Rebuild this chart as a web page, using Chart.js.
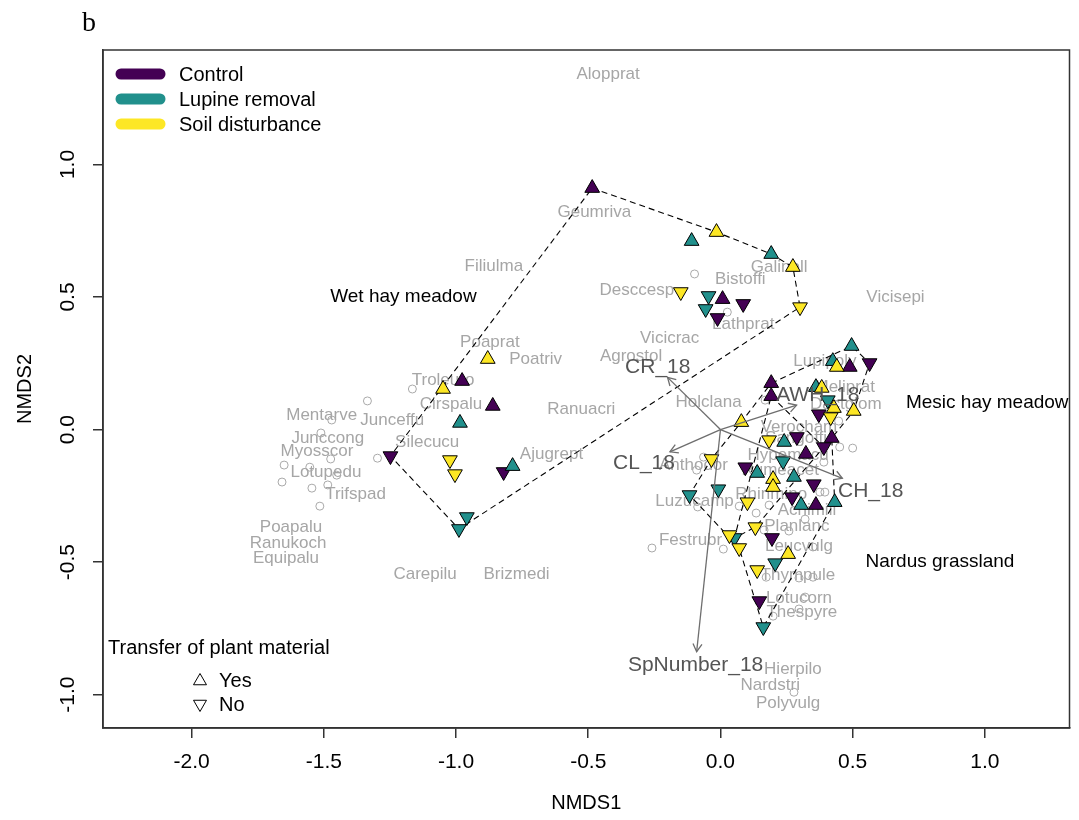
<!DOCTYPE html>
<html>
<head>
<meta charset="utf-8">
<script src="https://cdn.jsdelivr.net/npm/chart.js@4.4.0/dist/chart.umd.min.js"></script>
<style>
  html, body { margin: 0; padding: 0; background: #ffffff; }
  #wrap { width: 1079px; height: 820px; }
</style>
</head>
<body>
<div id="wrap"><canvas id="nmds" width="1079" height="820"></canvas></div>
<script>
// ---- axes ----
const xTicks = [-2.0, -1.5, -1.0, -0.5, 0.0, 0.5, 1.0];
const yTicks = [-1.0, -0.5, 0.0, 0.5, 1.0];

// ---- treatments ----
const treatments = ['Control', 'Lupine removal', 'Soil disturbance'];
const treatmentColours = ['#440154', '#21908C', '#FDE725'];

// ---- site scores (NMDS1 / NMDS2), by treatment and transfer of plant material ----
const controlYesX = [-0.485, 0.008, -0.977, -0.861, 0.489, 0.192, 0.192, 0.421, 0.323, 0.361];
const controlYesY = [0.911, 0.492, 0.183, 0.089, 0.236, 0.175, 0.126, -0.032, -0.092, -0.285];
const controlNoX = [0.086, -0.011, -1.248, -0.820, 0.564, 0.372, 0.289, 0.391, 0.094, 0.353, 0.271, 0.195, 0.147];
const controlNoY = [0.474, 0.421, -0.100, -0.160, 0.251, 0.058, -0.028, -0.066, -0.142, -0.206, -0.255, -0.409, -0.647];
const lupineYesX = [-0.109, 0.192, -0.985, -0.786, 0.496, 0.425, 0.361, 0.241, 0.139, 0.278, 0.305, 0.432];
const lupineYesY = [0.711, 0.662, 0.025, -0.138, 0.315, 0.258, 0.160, -0.047, -0.164, -0.179, -0.285, -0.274];
const lupineNoX = [-0.045, -0.056, -0.959, -0.989, 0.406, 0.237, -0.117, -0.008, 0.053, 0.207, 0.162];
const lupineNoY = [0.504, 0.455, -0.330, -0.375, 0.111, -0.119, -0.247, -0.225, -0.409, -0.504, -0.745];
const soilYesX = [-0.015, 0.274, -0.880, -1.049, 0.440, 0.383, 0.429, 0.504, 0.079, 0.199, 0.199, 0.256];
const soilYesY = [0.745, 0.613, 0.266, 0.153, 0.236, 0.157, 0.081, 0.070, 0.028, -0.187, -0.217, -0.470];
const soilNoX = [0.301, -0.150, -1.023, -1.004, 0.417, 0.184, 0.102, 0.132, -0.034, 0.034, 0.071, 0.139];
const soilNoY = [0.462, 0.519, -0.115, -0.168, 0.047, -0.040, -0.274, -0.368, -0.111, -0.398, -0.447, -0.530];

// ---- species scores ----
const speciesPtX = [-0.098, 0.026, -1.165, -1.335, -1.470, -1.511, -1.474, -1.650, -1.553, -1.451,
  -1.658, -1.545, -1.485, -1.515, -1.297, -0.259, 0.011, -0.064, -0.090, -0.086,
  0.071, 0.135, 0.184, 0.165, 0.259, 0.320, 0.376, 0.395, 0.451, 0.500,
  0.391, 0.173, 0.297, 0.350, 0.199, 0.297, 0.320, 0.278, 0.169, 0.447, 0.350];
const speciesPtY = [0.587, 0.443, 0.153, 0.108, 0.036, -0.013, -0.111, -0.134, -0.142, -0.172,
  -0.198, -0.221, -0.209, -0.289, -0.108, -0.447, -0.451, -0.104, -0.153, -0.292,
  -0.289, -0.315, -0.285, -0.379, -0.383, -0.338, -0.236, -0.236, -0.066, -0.070,
  -0.123, -0.557, -0.560, -0.557, -0.704, -0.677, -0.632, -0.991, 0.111, 0.032, -0.443];

const speciesNames = ['Alopprat', 'Geumriva', 'Filiulma', 'Bistoffi', 'Galinoll', 'Desccesp', 'Lathprat',
  'Vicicrac', 'Vicisepi', 'Agrostol', 'Poaprat', 'Poatriv', 'Troleuro', 'Cirspalu', 'Ranuacri',
  'Mentarve', 'Junceffu', 'Junccong', 'Silecucu', 'Myosscor', 'Lotupedu', 'Trifspad', 'Ajugrept',
  'Holclana', 'Anthodor', 'Luzucamp', 'Festrubr', 'Poapalu', 'Ranukoch', 'Equipalu', 'Carepilu',
  'Brizmedi', 'Lupipoly', 'Meliprat', 'Dactglom', 'Verocham', 'Sangoffi', 'Hypemacu', 'Rumeacet',
  'Rhinmino', 'Achimill', 'Planlanc', 'Leucvulg', 'Thympule', 'Lotucorn', 'Thespyre', 'Hierpilo',
  'Nardstri', 'Polyvulg'];
const speciesLabelX = [-0.425, -0.477, -0.857, 0.075, 0.222, -0.316, 0.086,
  -0.192, 0.662, -0.338, -0.872, -0.699, -1.049, -1.019, -0.526,
  -1.508, -1.241, -1.485, -1.109, -1.526, -1.492, -1.380, -0.639,
  -0.045, -0.102, -0.098, -0.113, -1.624, -1.635, -1.643, -1.117,
  -0.771, 0.395, 0.470, 0.474, 0.297, 0.286, 0.256, 0.226,
  0.192, 0.327, 0.289, 0.297, 0.293, 0.297, 0.308, 0.274,
  0.188, 0.256];
const speciesLabelY = [1.342, 0.821, 0.617, 0.568, 0.613, 0.526, 0.398,
  0.345, 0.500, 0.277, 0.330, 0.266, 0.187, 0.096, 0.077,
  0.055, 0.036, -0.032, -0.047, -0.081, -0.160, -0.243, -0.092,
  0.104, -0.134, -0.270, -0.417, -0.368, -0.428, -0.485, -0.545,
  -0.545, 0.258, 0.160, 0.096, 0.009, -0.032, -0.096, -0.153,
  -0.243, -0.304, -0.364, -0.440, -0.549, -0.636, -0.689, -0.904,
  -0.964, -1.032];

// ---- convex hulls of the three habitats ----
const wetHullX = [-0.485, -0.015, 0.192, 0.274, 0.301, -0.989, -1.248, -0.485];
const wetHullY = [0.911, 0.745, 0.662, 0.613, 0.462, -0.375, -0.100, 0.911];
const mesicHullX = [0.192, 0.496, 0.564, 0.504, 0.421, 0.432, 0.162, 0.071, -0.117, -0.034, 0.079, 0.192];
const mesicHullY = [0.175, 0.315, 0.251, 0.070, -0.032, -0.274, -0.745, -0.447, -0.247, -0.111, 0.028, 0.175];
const nardusHullX = [0.192, 0.391, 0.132, 0.053, 0.192];
const nardusHullY = [0.126, -0.066, -0.368, -0.409, 0.126];

const habitatNames = ['Wet hay meadow', 'Mesic hay meadow', 'Nardus grassland'];
const habitatLabelX = [-1.199, 1.009, 0.830];
const habitatLabelY = [0.500, 0.100, -0.500];

// ---- fitted environmental vectors ----
const envNames = ['CR_18', 'CL_18', 'AWH_18', 'CH_18', 'SpNumber_18'];
const envX = [-0.200, -0.191, 0.288, 0.461, -0.090];
const envY = [0.197, -0.084, 0.092, -0.184, -0.838];
const envLabelX = [-0.237, -0.289, 0.368, 0.568, -0.094];
const envLabelY = [0.236, -0.126, 0.130, -0.232, -0.889];

const FONT = "'Liberation Sans', Arial, Helvetica, sans-serif";
const zip = (xs, ys) => xs.map((x, i) => ({ x: x, y: ys[i] }));

function siteSet(label, xs, ys, colour, up) {
  return {
    label: label, data: zip(xs, ys), showLine: false,
    pointStyle: 'triangle', pointRadius: 8.5, pointHoverRadius: 8.5,
    pointRotation: up ? 0 : 180,
    backgroundColor: colour, borderColor: '#000000', borderWidth: 1, order: 20
  };
}
function hullSet(xs, ys) {
  return {
    label: 'hull', data: zip(xs, ys), showLine: true, fill: false, tension: 0,
    borderColor: '#000000', borderWidth: 1.1, borderDash: [6, 4],
    pointRadius: 0, pointHoverRadius: 0, order: 40
  };
}
function envSet(i) {
  return {
    label: envNames[i], data: [{ x: 0, y: 0 }, { x: envX[i], y: envY[i] }],
    showLine: true, fill: false, borderColor: '#6e6e6e', borderWidth: 1.3,
    pointRadius: 0, pointHoverRadius: 0, order: 10
  };
}

const datasets = [
  {
    label: 'species', data: zip(speciesPtX, speciesPtY), showLine: false,
    pointStyle: 'circle', pointRadius: 4, backgroundColor: 'rgba(0,0,0,0)',
    borderColor: '#a9a9a9', borderWidth: 1, order: 50
  },
  hullSet(wetHullX, wetHullY),
  hullSet(mesicHullX, mesicHullY),
  hullSet(nardusHullX, nardusHullY),
  siteSet('Soil disturbance / No', soilNoX, soilNoY, treatmentColours[2], false),
  siteSet('Soil disturbance / Yes', soilYesX, soilYesY, treatmentColours[2], true),
  siteSet('Lupine removal / No', lupineNoX, lupineNoY, treatmentColours[1], false),
  siteSet('Lupine removal / Yes', lupineYesX, lupineYesY, treatmentColours[1], true),
  siteSet('Control / No', controlNoX, controlNoY, treatmentColours[0], false),
  siteSet('Control / Yes', controlYesX, controlYesY, treatmentColours[0], true)
];
envNames.forEach((n, i) => datasets.push(envSet(i)));

// Species names sit underneath the site symbols
const speciesText = {
  id: 'speciesText',
  beforeDatasetsDraw(chart) {
    const { ctx, scales: { x, y } } = chart;
    ctx.save();
    ctx.font = '17px ' + FONT;
    ctx.fillStyle = '#a6a6a6';
    ctx.textAlign = 'center';
    ctx.textBaseline = 'middle';
    speciesNames.forEach((n, i) => {
      ctx.fillText(n, x.getPixelForValue(speciesLabelX[i]), y.getPixelForValue(speciesLabelY[i]));
    });
    ctx.restore();
  }
};

// Arrow heads, vector names, habitat names, legends, box and axis text
const annotations = {
  id: 'annotations',
  afterDatasetsDraw(chart) {
    const { ctx, chartArea: a, scales: { x, y } } = chart;
    ctx.save();
    // arrow heads
    ctx.strokeStyle = '#6e6e6e';
    ctx.lineWidth = 1.3;
    envNames.forEach((n, i) => {
      const x0 = x.getPixelForValue(0), y0 = y.getPixelForValue(0);
      const x1 = x.getPixelForValue(envX[i]), y1 = y.getPixelForValue(envY[i]);
      const ang = Math.atan2(y1 - y0, x1 - x0);
      const len = 9, spread = Math.PI / 6;
      ctx.beginPath();
      ctx.moveTo(x1 - len * Math.cos(ang - spread), y1 - len * Math.sin(ang - spread));
      ctx.lineTo(x1, y1);
      ctx.lineTo(x1 - len * Math.cos(ang + spread), y1 - len * Math.sin(ang + spread));
      ctx.stroke();
    });
    // vector names
    ctx.font = '21px ' + FONT;
    ctx.fillStyle = '#555555';
    ctx.textAlign = 'center';
    ctx.textBaseline = 'middle';
    envNames.forEach((n, i) => {
      ctx.fillText(n, x.getPixelForValue(envLabelX[i]), y.getPixelForValue(envLabelY[i]));
    });
    // habitat names
    ctx.font = '19px ' + FONT;
    ctx.fillStyle = '#000000';
    habitatNames.forEach((n, i) => {
      ctx.fillText(n, x.getPixelForValue(habitatLabelX[i]), y.getPixelForValue(habitatLabelY[i]));
    });
    // treatment legend
    ctx.lineCap = 'round';
    ctx.lineWidth = 11;
    ctx.textAlign = 'left';
    ctx.font = '20px ' + FONT;
    treatments.forEach((t, i) => {
      const ly = a.top + 24 + i * 25;
      ctx.strokeStyle = treatmentColours[i];
      ctx.beginPath();
      ctx.moveTo(a.left + 18, ly);
      ctx.lineTo(a.left + 57, ly);
      ctx.stroke();
      ctx.fillStyle = '#000000';
      ctx.fillText(t, a.left + 76, ly + 1);
    });
    // transfer legend
    ctx.lineCap = 'butt';
    ctx.fillText('Transfer of plant material', a.left + 5, 648);
    ctx.lineWidth = 1;
    ctx.strokeStyle = '#000000';
    const tri = (cx, cy, up) => {
      const r = 7.5, s = up ? 1 : -1;
      ctx.beginPath();
      ctx.moveTo(cx, cy - s * r);
      ctx.lineTo(cx + r * 0.866, cy + s * r * 0.5);
      ctx.lineTo(cx - r * 0.866, cy + s * r * 0.5);
      ctx.closePath();
      ctx.stroke();
    };
    tri(200, 681, true);
    tri(200, 704, false);
    ctx.fillText('Yes', 219, 681);
    ctx.fillText('No', 219, 705);
    ctx.restore();
  },
  afterDraw(chart) {
    const { ctx, chartArea: a, scales: { y } } = chart;
    ctx.save();
    // plot frame
    ctx.strokeStyle = '#333333';
    ctx.lineWidth = 1.5;
    ctx.strokeRect(a.left, a.top, a.right - a.left, a.bottom - a.top);
    // rotated y tick labels
    ctx.fillStyle = '#000000';
    ctx.font = '21px ' + FONT;
    ctx.textAlign = 'center';
    ctx.textBaseline = 'middle';
    y.ticks.forEach(t => {
      ctx.save();
      ctx.translate(68, y.getPixelForValue(t.value));
      ctx.rotate(-Math.PI / 2);
      ctx.fillText(t.value.toFixed(1), 0, 0);
      ctx.restore();
    });
    // axis titles
    ctx.font = '20px ' + FONT;
    ctx.fillText('NMDS1', (a.left + a.right) / 2, 803);
    ctx.save();
    ctx.translate(25, (a.top + a.bottom) / 2);
    ctx.rotate(-Math.PI / 2);
    ctx.fillText('NMDS2', 0, 0);
    ctx.restore();
    // panel letter
    ctx.font = '28px "Liberation Serif", "Times New Roman", serif';
    ctx.textAlign = 'left';
    ctx.textBaseline = 'alphabetic';
    ctx.fillText('b', 82, 31);
    ctx.restore();
  }
};

new Chart(document.getElementById('nmds'), {
  type: 'scatter',
  data: { datasets: datasets },
  plugins: [speciesText, annotations],
  options: {
    responsive: false,
    animation: false,
    devicePixelRatio: 1,
    layout: { padding: { top: 50, right: 4, left: 0, bottom: 0 } },
    plugins: { legend: { display: false }, tooltip: { enabled: false } },
    scales: {
      x: {
        type: 'linear', min: -2.335, max: 1.320,
        afterBuildTicks: s => { s.ticks = xTicks.map(v => ({ value: v })); },
        afterFit: s => { s.height = 92; },
        grid: { drawOnChartArea: false, drawTicks: true, tickLength: 10, color: '#333333', lineWidth: 1.5 },
        border: { display: true, color: '#333333', width: 1.5 },
        ticks: {
          font: { family: FONT, size: 21 }, color: '#000000', padding: 12, maxRotation: 0,
          callback: v => Number(v).toFixed(1)
        }
      },
      y: {
        type: 'linear', min: -1.126, max: 1.432,
        afterBuildTicks: s => { s.ticks = yTicks.map(v => ({ value: v })); },
        afterFit: s => { s.width = 103; },
        grid: { drawOnChartArea: false, drawTicks: true, tickLength: 10, color: '#333333', lineWidth: 1.5 },
        border: { display: true, color: '#333333', width: 1.5 },
        ticks: { display: false }
      }
    }
  }
});
</script>
</body>
</html>
